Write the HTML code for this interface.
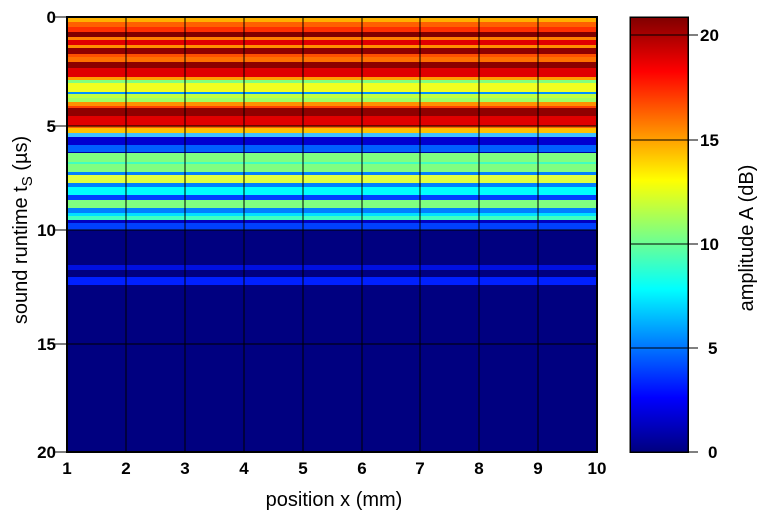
<!DOCTYPE html>
<html><head><style>body{margin:0;background:#fff}</style></head><body>
<svg width="763" height="517" xmlns="http://www.w3.org/2000/svg" font-family="Liberation Sans, sans-serif">
<defs>
<linearGradient id="jet" x1="0" y1="1" x2="0" y2="0">
<stop offset="0" stop-color="#00007f"/><stop offset="0.125" stop-color="#0000ff"/><stop offset="0.375" stop-color="#00ffff"/><stop offset="0.625" stop-color="#ffff00"/><stop offset="0.875" stop-color="#ff0000"/><stop offset="1" stop-color="#7f0000"/>
</linearGradient>
</defs>
<g shape-rendering="crispEdges">
<rect x="67" y="17" width="530" height="435" fill="#000080"/>
<rect x="67" y="17" width="530" height="5" fill="#ffb000"/>
<rect x="67" y="22" width="530" height="5" fill="#ff6000"/>
<rect x="67" y="27" width="530" height="5" fill="#ff3000"/>
<rect x="67" y="32" width="530" height="5" fill="#800000"/>
<rect x="67" y="37" width="530" height="3" fill="#ff8000"/>
<rect x="67" y="40" width="530" height="5" fill="#e00000"/>
<rect x="67" y="45" width="530" height="3" fill="#ff9000"/>
<rect x="67" y="48" width="530" height="6" fill="#900000"/>
<rect x="67" y="54" width="530" height="3" fill="#ff5000"/>
<rect x="67" y="57" width="530" height="5" fill="#ff7000"/>
<rect x="67" y="62" width="530" height="6" fill="#8b0000"/>
<rect x="67" y="68" width="530" height="9" fill="#e00000"/>
<rect x="67" y="77" width="530" height="3" fill="#ffa000"/>
<rect x="67" y="80" width="530" height="3" fill="#80ff80"/>
<rect x="67" y="83" width="530" height="9" fill="#f0ff20"/>
<rect x="67" y="92" width="530" height="2" fill="#0090ff"/>
<rect x="67" y="94" width="530" height="4" fill="#c0ff40"/>
<rect x="67" y="98" width="530" height="4" fill="#a0ff60"/>
<rect x="67" y="102" width="530" height="4" fill="#ff9000"/>
<rect x="67" y="106" width="530" height="2" fill="#ff4000"/>
<rect x="67" y="108" width="530" height="8" fill="#900000"/>
<rect x="67" y="116" width="530" height="10" fill="#e00000"/>
<rect x="67" y="126" width="530" height="2" fill="#ff6000"/>
<rect x="67" y="128" width="530" height="5" fill="#ffc000"/>
<rect x="67" y="133" width="530" height="4" fill="#40c0ff"/>
<rect x="67" y="137" width="530" height="8" fill="#0000d0"/>
<rect x="67" y="145" width="530" height="7" fill="#0060ff"/>
<rect x="67" y="152" width="530" height="1" fill="#0000a0"/>
<rect x="67" y="153" width="530" height="9" fill="#80ff80"/>
<rect x="67" y="162" width="530" height="2" fill="#40ffc0"/>
<rect x="67" y="164" width="530" height="8" fill="#80ff80"/>
<rect x="67" y="172" width="530" height="3" fill="#0080ff"/>
<rect x="67" y="175" width="530" height="8" fill="#e0ff40"/>
<rect x="67" y="183" width="530" height="4" fill="#0080ff"/>
<rect x="67" y="187" width="530" height="8" fill="#00ffff"/>
<rect x="67" y="195" width="530" height="5" fill="#0040ff"/>
<rect x="67" y="200" width="530" height="8" fill="#80ff80"/>
<rect x="67" y="208" width="530" height="5" fill="#0080ff"/>
<rect x="67" y="213" width="530" height="3" fill="#00e0ff"/>
<rect x="67" y="216" width="530" height="4" fill="#40ffc0"/>
<rect x="67" y="220" width="530" height="3" fill="#0000c0"/>
<rect x="67" y="223" width="530" height="7" fill="#0040ff"/>
<rect x="67" y="265" width="530" height="5" fill="#0010e0"/>
<rect x="67" y="277" width="530" height="8" fill="#0020ff"/>
<g stroke="#000" stroke-width="1">
<line x1="126" y1="17" x2="126" y2="452"/><line x1="185" y1="17" x2="185" y2="452"/><line x1="244" y1="17" x2="244" y2="452"/><line x1="303" y1="17" x2="303" y2="452"/><line x1="362" y1="17" x2="362" y2="452"/><line x1="420" y1="17" x2="420" y2="452"/><line x1="479" y1="17" x2="479" y2="452"/><line x1="538" y1="17" x2="538" y2="452"/>
<line x1="67" y1="126" x2="597" y2="126"/><line x1="67" y1="230" x2="597" y2="230"/><line x1="67" y1="344" x2="597" y2="344"/>
<line x1="55" y1="17" x2="67" y2="17"/><line x1="55" y1="126" x2="67" y2="126"/><line x1="55" y1="230" x2="67" y2="230"/><line x1="55" y1="344" x2="67" y2="344"/><line x1="55" y1="452" x2="67" y2="452"/>
</g>
<rect x="67" y="17" width="530" height="435" fill="none" stroke="#000" stroke-width="2"/>
<rect x="630" y="17" width="58" height="435" fill="url(#jet)"/>
<g stroke="#000" stroke-width="1">
<line x1="630" y1="35" x2="698" y2="35"/><line x1="630" y1="140" x2="698" y2="140"/><line x1="630" y1="244" x2="698" y2="244"/><line x1="630" y1="348" x2="698" y2="348"/><line x1="630" y1="452" x2="698" y2="452"/>
</g>
<rect x="630" y="17" width="58" height="435" fill="none" stroke="#000" stroke-width="1.5"/>
</g>
<g font-size="17" font-weight="bold" fill="#000">
<g text-anchor="end">
<text x="56" y="23">0</text><text x="56" y="132">5</text><text x="56" y="236">10</text><text x="56" y="350">15</text><text x="56" y="458">20</text>
</g>
<g text-anchor="middle">
<text x="67" y="474">1</text><text x="126" y="474">2</text><text x="185" y="474">3</text><text x="244" y="474">4</text><text x="303" y="474">5</text><text x="362" y="474">6</text><text x="420" y="474">7</text><text x="479" y="474">8</text><text x="538" y="474">9</text><text x="597" y="474">10</text>
</g>
<g text-anchor="start">
<text x="700" y="41">20</text><text x="700" y="146">15</text><text x="700" y="250">10</text><text x="708" y="354">5</text><text x="708" y="458">0</text>
</g>
</g>
<g font-size="20" fill="#000">
<text x="334" y="506" text-anchor="middle">position x (mm)</text>
<text transform="translate(27,230) rotate(-90)" text-anchor="middle">sound runtime t<tspan font-size="15" dy="5">S</tspan><tspan dy="-5"> (µs)</tspan></text>
<text transform="translate(753,238) rotate(-90)" text-anchor="middle">amplitude A (dB)</text>
</g>
</svg>
</body></html>
